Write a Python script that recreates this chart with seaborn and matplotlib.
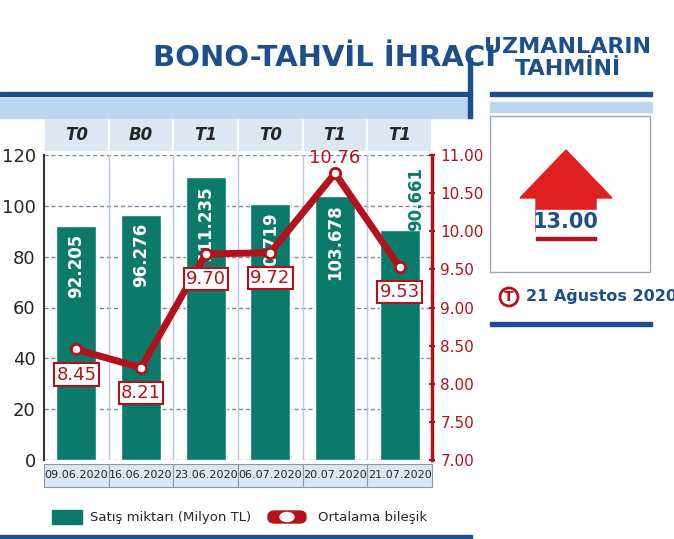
import matplotlib
matplotlib.use("Agg")
import matplotlib.pyplot as plt
import matplotlib.patches as mpatches
import seaborn as sns
import pandas as pd

dates = ["09.06.2020", "16.06.2020", "23.06.2020", "06.07.2020", "20.07.2020", "21.07.2020"]
types = ["T0", "B0", "T1", "T0", "T1", "T1"]
sales = [92.205, 96.276, 111.235, 100.719, 103.678, 90.661]
rates = [8.45, 8.21, 9.70, 9.72, 10.76, 9.53]
sales_labels = ["92.205", "96.276", "111.235", "100.719", "103.678", "90.661"]
rate_labels = ["8.45", "8.21", "9.70", "9.72", "10.76", "9.53"]
forecast = "13.00"

GREEN = "#0b7a6a"
RED = "#b3121c"
BLUE = "#1c4f8c"
LIGHT = "#dde7f3"

sns.set_style("white")
plt.rcParams['font.family'] = ['DejaVu Sans Condensed', 'DejaVu Sans']

W, H = 674, 539
fig = plt.figure(figsize=(W/100, H/100), dpi=100)

def fx(px): return px / W
def fy(py): return 1 - py / H

# title
fig.text(fx(325), fy(58), "BONO-TAHVİL İHRACI", color=BLUE, fontsize=21, fontweight="bold",
         ha="center", va="center")
fig.patches.append(mpatches.Rectangle((fx(0), fy(96)), fx(472), 4/H, color=BLUE, transform=fig.transFigure))
fig.patches.append(mpatches.Rectangle((fx(0), fy(118)), fx(472), 20/H, color="#bcd6ee", transform=fig.transFigure))
fig.patches.append(mpatches.Rectangle((fx(468), fy(118)), 4/W, 60/H, color=BLUE, transform=fig.transFigure))

# right panel
fig.text(fx(568), fy(58), "UZMANLARIN\nTAHMİNİ", color=BLUE, fontsize=16, fontweight="bold",
         ha="center", va="center", linespacing=1.1)
fig.patches.append(mpatches.Rectangle((fx(490), fy(96)), fx(162), 4/H, color=BLUE, transform=fig.transFigure))
fig.patches.append(mpatches.Rectangle((fx(490), fy(112)), fx(162), 10/H, color="#bcd6ee", transform=fig.transFigure))
fig.patches.append(mpatches.Rectangle((fx(490), fy(272)), fx(160), 156/H, facecolor="white",
                                      edgecolor="#9ab", lw=1, transform=fig.transFigure))
arrow = mpatches.Polygon([(fx(520), fy(198)), (fx(566), fy(150)), (fx(612), fy(198)),
                          (fx(596), fy(198)), (fx(596), fy(232)), (fx(536), fy(232)), (fx(536), fy(198))],
                         closed=True, color="#e02020", transform=fig.transFigure)
fig.patches.append(arrow)
fig.patches.append(mpatches.Rectangle((fx(536), fy(234)), 60/W, 24/H, color="white", transform=fig.transFigure))
fig.text(fx(566), fy(222), forecast, color=BLUE, fontsize=15, fontweight="bold", ha="center", va="center")
fig.patches.append(mpatches.Rectangle((fx(536), fy(240)), 60/W, 3/H, color=RED, transform=fig.transFigure))
fig.patches.append(mpatches.Ellipse((fx(509), fy(297)), 18/W, 18/H, facecolor="white", edgecolor=RED,
                                    lw=2, transform=fig.transFigure))
fig.text(fx(509), fy(297), "T", color=RED, fontsize=10, fontweight="bold", ha="center", va="center")
fig.text(fx(526), fy(297), "21 Ağustos 2020", color=BLUE, fontsize=11.5, fontweight="bold", ha="left", va="center")
fig.patches.append(mpatches.Rectangle((fx(490), fy(326)), fx(162), 4/H, color=BLUE, transform=fig.transFigure))

# main axes
ax = fig.add_axes([fx(44), fy(460), fx(432-44), (460-155)/H])
df = pd.DataFrame({"date": dates, "sales": sales})
sns.barplot(data=df, x="date", y="sales", color=GREEN, saturation=1, width=0.62, ax=ax, zorder=2)
ax.set_ylim(0, 120)
ax.set_xlim(-0.5, 5.5)
ax.set_yticks(range(0, 121, 20))
ax.tick_params(axis="y", labelsize=13, length=0, pad=6)
ax.yaxis.grid(True, linestyle=(0, (3, 2)), color="#7a8aa0", lw=1)
ax.set_xticks([])
ax.set_xlabel(""); ax.set_ylabel("")
for s in ["top", "right", "bottom"]:
    ax.spines[s].set_visible(False)
ax.spines["left"].set_color("#333"); ax.spines["left"].set_linewidth(1.5)
for i in range(1, 6):
    ax.axvline(i - 0.5, color="#b8c8dc", lw=1, zorder=1)
for i, (v, lab) in enumerate(zip(sales, sales_labels)):
    if i == 5:
        ax.text(i + 0.25, v + 12, lab, rotation=90, color=GREEN, fontsize=12, fontweight="bold",
                ha="center", va="center", zorder=5)
    else:
        ax.text(i, v - 3, lab, rotation=90, color="white", fontsize=12, fontweight="bold",
                ha="center", va="top", zorder=5)

# header row
for i, t in enumerate(types):
    ax.add_patch(mpatches.Rectangle((i - 0.5, 121), 1, 13.5, facecolor=LIGHT, edgecolor="white",
                                    lw=1.5, clip_on=False, zorder=1))
    ax.text(i, 127.8, t, fontsize=12, fontweight="bold", style="italic", ha="center", va="center")
    ax.add_patch(mpatches.Rectangle((i - 0.5, -10.5), 1, 9, facecolor=LIGHT, edgecolor="#8899aa",
                                    lw=0.8, clip_on=False))
    ax.text(i, -6, dates[i], fontsize=8, ha="center", va="center")

ax2 = ax.twinx()
ax2.set_ylim(7, 11)
sns.lineplot(x=list(range(6)), y=rates, color=RED, lw=5, ax=ax2, zorder=4)
ax2.scatter(range(6), rates, s=55, color="white", edgecolor=RED, linewidth=2, zorder=6)
ax2.set_yticks([7 + 0.5 * k for k in range(9)])
ax2.set_yticklabels([f"{7 + 0.5 * k:.2f}" for k in range(9)])
ax2.tick_params(axis="y", labelsize=11, colors=RED, length=5, width=1.5, direction="inout")
for s in ["top", "left", "bottom"]:
    ax2.spines[s].set_visible(False)
ax2.spines["right"].set_color(RED); ax2.spines["right"].set_linewidth(2.5)
for i, (v, lab) in enumerate(zip(rates, rate_labels)):
    dy = 0.2 if i == 4 else -0.33
    bbox = None if i == 4 else dict(boxstyle="square,pad=0.12", fc="white", ec=RED, lw=1.5)
    ax2.text(i, v + dy, lab, color=RED, fontsize=13, ha="center", va="center", bbox=bbox, zorder=7)

# legend
fig.patches.append(mpatches.Rectangle((fx(52), fy(524)), 30/W, 14/H, color=GREEN, transform=fig.transFigure))
fig.text(fx(90), fy(517), "Satış miktarı (Milyon TL)", fontsize=9.5, va="center")
fig.patches.append(mpatches.FancyBboxPatch((fx(268), fy(523)), 38/W, 12/H, boxstyle="round,pad=0,rounding_size=0.01",
                                           color=RED, transform=fig.transFigure))
fig.patches.append(mpatches.Ellipse((fx(287), fy(517)), 14/W, 9/H, color="white", transform=fig.transFigure))
fig.text(fx(318), fy(517), "Ortalama bileşik", fontsize=9.5, va="center")
fig.patches.append(mpatches.Rectangle((fx(0), fy(539)), fx(472), 4/H, color=BLUE, transform=fig.transFigure))

fig.savefig("out.png", dpi=100)
